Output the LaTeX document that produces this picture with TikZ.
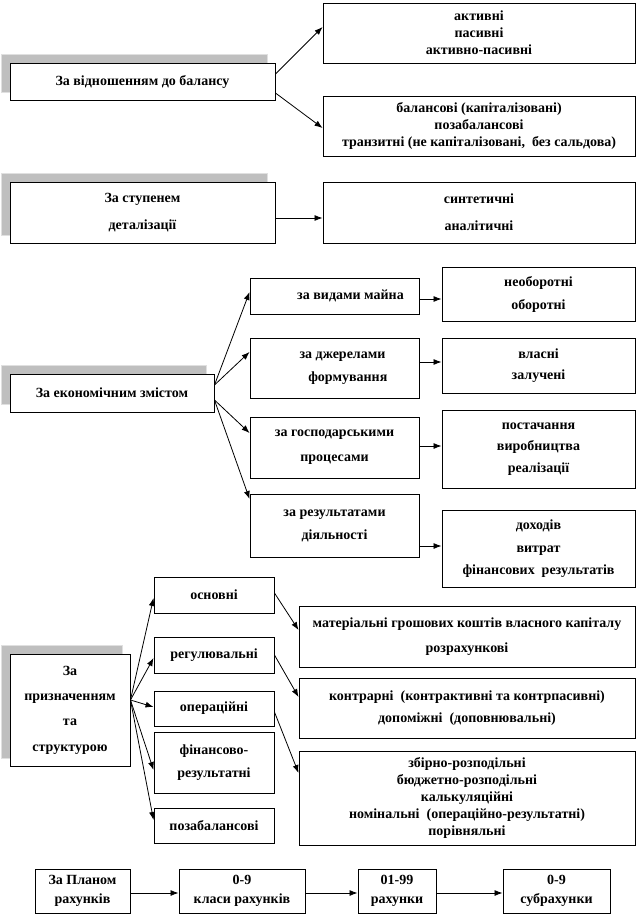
\documentclass[tikz,border=0pt]{standalone}
\usepackage{fontspec}
\setmainfont{Liberation Serif}
\usetikzlibrary{arrows.meta,backgrounds}
\tikzset{
  box/.style={draw=black, line width=0.7pt, fill=white, inner sep=0pt, align=center,
    font=\fontsize{10.5pt}{12.75pt}\selectfont\bfseries},
  bx/.style 2 args={minimum width=#1*0.75pt, minimum height=#2*0.75pt},
  arr/.style={draw=black, line width=0.6pt, -{Latex[length=6pt,width=4.5pt]}},
  shadowc/.style={fill=black!25, draw=black!12, line width=0.8pt}
}
\begin{document}
\begin{tikzpicture}[x=0.75pt,y=-0.75pt]
\useasboundingbox (0,0) rectangle (637,917);
% ---------- section 1
\node[box, bx={265}{37}] (L1) at (142.5,81.5) {За відношенням до балансу};
\node[box, bx={312}{60}] (R1a) at (479,33) {активні\\пасивні\\активно-пасивні};
\node[box, bx={312}{60}] (R1b) at (479,126) {балансові (капіталізовані)\\позабалансові\\транзитні (не капіталізовані,\enspace без сальдова)};
\draw[arr] ([shift={(0,-7.5)}]L1.east) -- ([shift={(0,-6)}]R1a.west);
\draw[arr] ([shift={(0,11.5)}]L1.east) -- ([shift={(0,2)}]R1b.west);
% ---------- section 2
\node[box, bx={265}{61}] (L2) at (142.5,212.5) {За ступенем\\[7.5pt]деталізації};
\node[box, bx={312}{61}] (R2) at (479,212.5) {синтетичні\\[7.5pt]аналітичні};
\draw[arr] ([shift={(0,5.5)}]L2.east) -- ([shift={(0,5.5)}]R2.west);
% ---------- section 3
\node[box, bx={204}{38}] (L3) at (112,393) {За економічним змістом};
\node[box, bx={169}{36}] (M1) at (334.5,296) {\hspace*{24pt}за видами майна};
\node[box, bx={169}{60}] (M2) at (334.5,368) {\hspace*{12pt}за джерелами\\[4.5pt]\hspace*{20pt}формування};
\node[box, bx={169}{61}] (M3) at (334.5,447.5) {за господарськими\\[6pt]процесами};
\node[box, bx={169}{63}] (M4) at (334.5,525.5) {за результатами\\[4.5pt]діяльності};
\node[box, bx={193}{54}] (N1) at (538.5,294) {необоротні\\[4.5pt]оборотні};
\node[box, bx={193}{55}] (N2) at (538.5,365.5) {власні\\[3pt]залучені};
\node[box, bx={193}{78}] (N3) at (538.5,449) {постачання\\[3.5pt]виробництва\\[3.5pt]реалізації};
\node[box, bx={193}{77}] (N4) at (538.5,548.5) {доходів\\[4.5pt]витрат\\[4pt]фінансових\enspace результатів};
\draw[arr] ([shift={(0,-8)}]L3.east) -- ([shift={(0,-4)}]M1.west);
\draw[arr] ([shift={(0,-8)}]L3.east) -- ([shift={(0,-16)}]M2.west);
\draw[arr] ([shift={(0,7)}]L3.east) -- ([shift={(0,-14.5)}]M3.west);
\draw[arr] ([shift={(0,7)}]L3.east) -- ([shift={(0,-26.5)}]M4.west);
\draw[arr] ([shift={(0,3)}]M1.east) -- ([shift={(0,5)}]N1.west);
\draw[arr] ([shift={(0,-6)}]M2.east) -- ([shift={(0,-3.5)}]N2.west);
\draw[arr] ([shift={(0,-1.5)}]M3.east) -- ([shift={(0,-3)}]N3.west);
\draw[arr] ([shift={(0,20.5)}]M4.east) -- ([shift={(0,-2.5)}]N4.west);
% ---------- section 4
\node[box, bx={120}{112}] (L4) at (70,710) {За\\[6.2pt]призначенням\\[6.2pt]та\\[6.2pt]структурою};
\node[box, bx={120}{36}] (S1) at (214,595) {основні};
\node[box, bx={120}{36}] (S2) at (214,655) {регулювальні};
\node[box, bx={120}{35}] (S3) at (214,708.5) {операційні};
\node[box, bx={120}{61}] (S4) at (214,762.5) {фінансово-\\[5pt]результатні};
\node[box, bx={120}{35}] (S5) at (214,825.5) {позабалансові};
\node[box, bx={336}{61}] (T1) at (467,636.5) {матеріальні грошових коштів власного капіталу\\[6pt]розрахункові};
\node[box, bx={336}{60}] (T2) at (467,708) {контрарні\enspace(контрактивні та контрпасивні)\\[4pt]допоміжні\enspace(доповнювальні)};
\node[box, bx={336}{94}] (T3) at (467,798) {збірно-розподільні\\бюджетно-розподільні\\калькуляційні\\номінальні\enspace(операційно-результатні)\\порівняльні};
\draw[arr] ([shift={(0,-10)}]L4.east) -- ([shift={(0,3)}]S1.west);
\draw[arr] ([shift={(0,-10)}]L4.east) -- ([shift={(0,3)}]S2.west);
\draw[arr] ([shift={(0,-10)}]L4.east) -- ([shift={(0,-1.5)}]S3.west);
\draw[arr] ([shift={(0,-10)}]L4.east) -- ([shift={(0,7.5)}]S4.west);
\draw[arr] ([shift={(0,-10)}]L4.east) -- ([shift={(0,-5.5)}]S5.west);
\draw[arr] ([shift={(0,-2)}]S1.east) -- ([shift={(0,-6.5)}]T1.west);
\draw[arr] ([shift={(0,0)}]S2.east) -- ([shift={(0,-11)}]T2.west);
\draw[arr] ([shift={(0,3.5)}]S3.east) -- ([shift={(0,-25)}]T3.west);
% ---------- section 5
\node[box, bx={95}{44}] (B1) at (82.5,891) {За Планом\\[1.5pt]рахунків};
\node[box, bx={126}{44}] (B2) at (242,891) {0-9\\[1.5pt]класи рахунків};
\node[box, bx={78}{44}] (B3) at (397,891) {01-99\\[1.5pt]рахунки};
\node[box, bx={107}{44}] (B4) at (556.5,891) {0-9\\[1.5pt]субрахунки};
\draw[arr] ([shift={(0,2)}]B1.east) -- ([shift={(0,2)}]B2.west);
\draw[arr] ([shift={(0,2)}]B2.east) -- ([shift={(0,2)}]B3.west);
\draw[arr] ([shift={(0,2)}]B3.east) -- ([shift={(0,2)}]B4.west);
% ---------- shadows
\begin{pgfonlayer}{background}
\foreach \n in {L1,L2,L3,L4}{
  \path[shadowc] ([shift={(-8,-8)}]\n.north west) rectangle ([shift={(-8,-8)}]\n.south east);
}
\end{pgfonlayer}
\end{tikzpicture}
\end{document}
